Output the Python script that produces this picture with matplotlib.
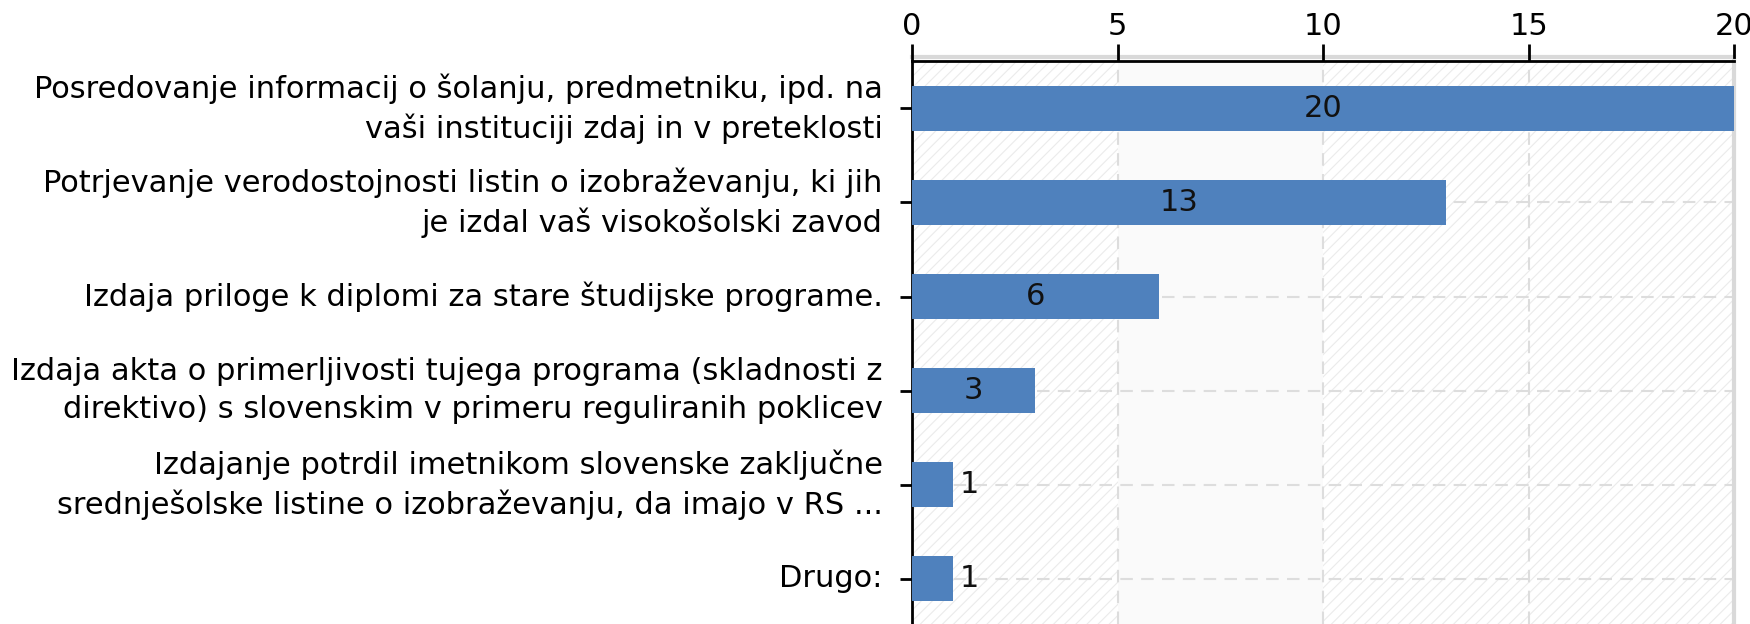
import matplotlib
matplotlib.use("Agg")
import matplotlib.pyplot as plt
from matplotlib.patches import Rectangle

categories = [
    "Posredovanje informacij o šolanju, predmetniku, ipd. na\nvaši instituciji zdaj in v preteklosti",
    "Potrjevanje verodostojnosti listin o izobraževanju, ki jih\nje izdal vaš visokošolski zavod",
    "Izdaja priloge k diplomi za stare študijske programe.",
    "Izdaja akta o primerljivosti tujega programa (skladnosti z\ndirektivo) s slovenskim v primeru reguliranih poklicev",
    "Izdajanje potrdil imetnikom slovenske zaključne\nsrednješolske listine o izobraževanju, da imajo v RS ...",
    "Drugo:",
]
values = [20, 13, 6, 3, 1, 1]
xticks = [0, 5, 10, 15, 20]

plt.rcParams['font.family'] = ['DejaVu Sans']
plt.rcParams['hatch.linewidth'] = 0.8
plt.rcParams['hatch.color'] = '#ebebeb'

fig = plt.figure(figsize=(17.5, 6.24), dpi=100)
ax = fig.add_axes([0.5211, 0.0, 0.4699, 0.9022])

FS = 22
ypos = list(range(len(values)))

# background
ax.add_patch(Rectangle((0, 0), 1, 1, transform=ax.transAxes, facecolor='white',
                       edgecolor='#ebebeb', hatch='///', lw=0, zorder=0))
ax.axvspan(5, 10, facecolor='#fafafa', edgecolor='none', zorder=0.5)

ax.barh(ypos, values, height=0.48, color='#4f81bd', zorder=3)

for y, v in zip(ypos, values):
    if v >= 3:
        ax.text(v / 2, y, str(v), ha='center', va='center', fontsize=FS, color='#111111', zorder=4)
    else:
        ax.text(v + 0.17, y, str(v), ha='left', va='center', fontsize=FS, color='#111111', zorder=4)

ax.set_xlim(0, 20)
ax.set_ylim(5.484, -0.505)
ax.set_xticks(xticks)
ax.set_xticklabels([str(t) for t in xticks], fontsize=FS)
ax.xaxis.tick_top()
ax.tick_params(axis='x', length=12, width=2, pad=2.5, colors='black')
ax.set_yticks(ypos)
ax.set_yticklabels(categories, fontsize=FS, linespacing=1.38, va='center')
ax.tick_params(axis='y', length=9, width=2, pad=12)

for x in xticks[1:-1]:
    ax.axvline(x, color='#dddddd', lw=1.5, ls=(0, (6, 4)), zorder=1)
for y in ypos:
    ax.axhline(y, color='#dddddd', lw=1.5, ls=(0, (6, 4)), zorder=1)

ax.spines['top'].set_color('black')
ax.spines['top'].set_linewidth(2)
ax.spines['left'].set_color('black')
ax.spines['left'].set_linewidth(2)
ax.spines['right'].set_color('#d9d9d9')
ax.spines['right'].set_linewidth(3)
ax.spines['bottom'].set_visible(False)

# light gray strip above top axis
ax.plot([0, 1], [1.008, 1.008], transform=ax.transAxes, color='#d9d9d9', lw=3,
        clip_on=False, zorder=0)

fig.savefig("out.png", dpi=100)
